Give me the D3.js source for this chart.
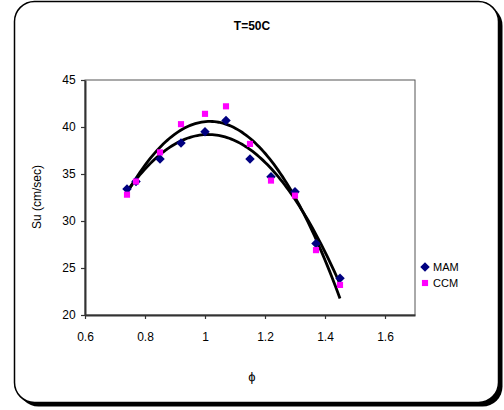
<!DOCTYPE html>
<html>
<head>
<meta charset="utf-8">
<script src="https://cdn.jsdelivr.net/npm/d3@7"></script>
<style>
  html, body { margin: 0; padding: 0; background: #fff; }
  svg { display: block; font-family: "Liberation Sans", Arial, sans-serif; }
</style>
</head>
<body>
<svg id="chart" width="504" height="410"></svg>
<script>
// Equivalence ratio (phi) for each measurement
const phi = [0.74, 0.77, 0.85, 0.92, 1.0, 1.07, 1.15, 1.22, 1.3, 1.37, 1.45];
// Burning velocity Su (cm/sec), two methods
const mam = [33.4, 34.2, 36.6, 38.3, 39.5, 40.7, 36.6, 34.7, 33.1, 27.6, 23.9];
const ccm = [32.8, 34.2, 37.3, 40.3, 41.4, 42.2, 38.2, 34.3, 32.7, 26.9, 23.2];
const seriesNames = ["MAM", "CCM"];
const xTicks = [0.6, 0.8, 1.0, 1.2, 1.4, 1.6];
const yTicks = [20, 25, 30, 35, 40, 45];

const svg = d3.select("#chart");

// Outer chart frame with a drop shadow
svg.append("rect").attr("x", 18.5).attr("y", 5.5).attr("width", 484).attr("height", 401)
  .attr("rx", 20).attr("fill", "#000");
svg.append("rect").attr("x", 14.5).attr("y", 1.5).attr("width", 484).attr("height", 401)
  .attr("rx", 20).attr("fill", "#fff").attr("stroke", "#000").attr("stroke-width", 1.5);

const plot = { left: 85, top: 80, right: 415, bottom: 315 };
const x = d3.scaleLinear().domain([0.6, 1.7]).range([plot.left, plot.right]);
const y = d3.scaleLinear().domain([20, 45]).range([plot.bottom, plot.top]);

// Plot area border
svg.append("rect").attr("x", plot.left).attr("y", plot.top)
  .attr("width", plot.right - plot.left).attr("height", plot.bottom - plot.top)
  .attr("fill", "none").attr("stroke", "#555").attr("stroke-width", 1);

// Axes
const xAxis = d3.axisBottom(x).tickValues(xTicks).tickSize(4).tickSizeOuter(0)
  .tickFormat(d => d3.format("")(+d.toFixed(1)));
const yAxis = d3.axisLeft(y).tickValues(yTicks).tickSize(4).tickSizeOuter(0);

const gx = svg.append("g").attr("transform", `translate(0,${plot.bottom})`).call(xAxis);
const gy = svg.append("g").attr("transform", `translate(${plot.left},0)`).call(yAxis);
[gx, gy].forEach(g => {
  g.select(".domain").attr("stroke", "#333").attr("stroke-width", 2);
  g.selectAll(".tick line").attr("stroke", "#333").attr("stroke-width", 1.2);
  g.selectAll("text").attr("font-size", 12).attr("fill", "#000")
    .attr("font-family", "'Liberation Sans', Arial, sans-serif");
});
gx.selectAll("text").attr("dy", "1.6em");
gy.selectAll("text").attr("dx", "-0.2em");

// Least-squares polynomial trendline
function polyFit(xs, ys, order) {
  const n = order + 1;
  const A = Array.from({ length: n }, () => new Array(n + 1).fill(0));
  for (let i = 0; i < xs.length; i++) {
    for (let r = 0; r < n; r++) {
      for (let c = 0; c < n; c++) A[r][c] += Math.pow(xs[i], r + c);
      A[r][n] += ys[i] * Math.pow(xs[i], r);
    }
  }
  for (let p = 0; p < n; p++) {
    let m = p;
    for (let r = p + 1; r < n; r++) if (Math.abs(A[r][p]) > Math.abs(A[m][p])) m = r;
    [A[p], A[m]] = [A[m], A[p]];
    for (let r = 0; r < n; r++) {
      if (r === p) continue;
      const f = A[r][p] / A[p][p];
      for (let c = p; c <= n; c++) A[r][c] -= f * A[p][c];
    }
  }
  const coef = A.map((row, i) => row[n] / row[i]);
  return v => coef.reduce((s, c, i) => s + c * Math.pow(v, i), 0);
}

const line = d3.line().x(d => x(d[0])).y(d => y(d[1])).curve(d3.curveLinear);
[mam, ccm].forEach(vals => {
  const f = polyFit(phi, vals, 2);
  const x0 = phi[0], x1 = phi[phi.length - 1];
  const pts = d3.range(0, 101).map(i => {
    const v = x0 + (x1 - x0) * i / 100;
    return [v, f(v)];
  });
  svg.append("path").attr("d", line(pts)).attr("fill", "none")
    .attr("stroke", "#000").attr("stroke-width", 2.8);
});

// Markers
const diamond = d3.symbol().type(d3.symbolDiamond2).size(58);
const square = d3.symbol().type(d3.symbolSquare2).size(48);

svg.append("g").selectAll("path").data(phi.map((p, i) => [p, mam[i]])).join("path")
  .attr("d", diamond).attr("transform", d => `translate(${x(d[0])},${y(d[1])})`)
  .attr("fill", "#000080").attr("stroke", "none");
svg.append("g").selectAll("path").data(phi.map((p, i) => [p, ccm[i]])).join("path")
  .attr("d", square).attr("transform", d => `translate(${x(d[0])},${y(d[1])})`)
  .attr("fill", "#FF00FF").attr("stroke", "none");

// Legend
const legend = svg.append("g").attr("transform", "translate(425,267)");
legend.append("path").attr("d", diamond).attr("fill", "#000080");
legend.append("path").attr("d", square).attr("transform", "translate(0,16)").attr("fill", "#FF00FF");
seriesNames.forEach((name, i) => {
  legend.append("text").attr("x", 8).attr("y", i * 16).attr("dy", "0.35em")
    .attr("font-size", 11).text(name);
});

// Titles
svg.append("text").attr("x", 252).attr("y", 30).attr("text-anchor", "middle")
  .attr("font-size", 12).attr("font-weight", "bold").text("T=50C");
svg.append("text").attr("transform", "translate(41,197) rotate(-90)")
  .attr("text-anchor", "middle").attr("font-size", 12).text("Su (cm/sec)");
svg.append("text").attr("x", 252).attr("y", 381).attr("text-anchor", "middle")
  .attr("font-size", 13).text("ϕ");
</script>
</body>
</html>
